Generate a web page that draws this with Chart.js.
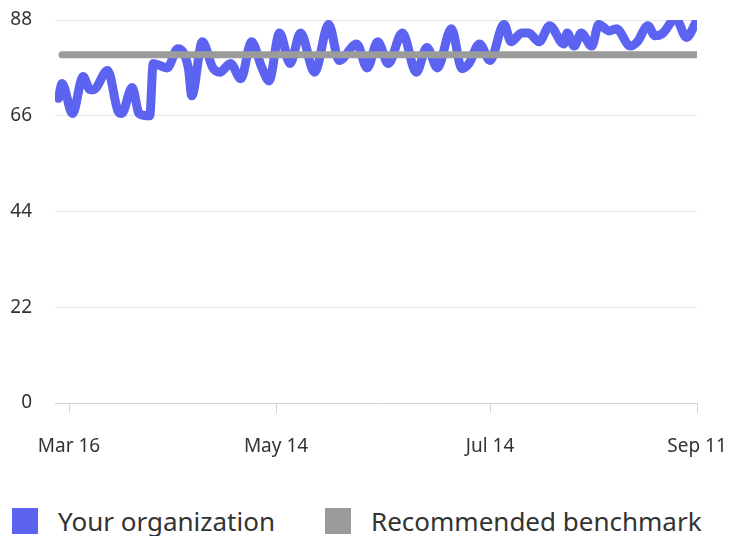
<!DOCTYPE html>
<html>
<head>
<meta charset="utf-8">
<script src="https://cdn.jsdelivr.net/npm/chart.js@4"></script>
<style>
  html, body { margin: 0; padding: 0; background: #fff; }
  body { width: 733px; height: 536px; position: relative; overflow: hidden; font-family: 'Noto Sans', sans-serif; }
  #wrap { position: absolute; left: 0; top: 0; width: 733px; height: 470px; }
  #legend { position: absolute; left: 12px; top: 503px; width: 721px; display: flex; align-items: center; font-size: 26px; color: #333; white-space: nowrap; }
  .item { display: flex; align-items: center; margin-right: 50px; flex-shrink: 0; }
  .box { width: 26px; height: 26px; margin-right: 20px; flex-shrink: 0; }
</style>
</head>
<body>
<div id="wrap"><canvas id="grafico"></canvas></div>
<div id="legend"></div>
<script>
// dias a partir de 16 de março
const diasOrg = [-3, -2, 1, 4, 6, 7, 11, 14, 15, 18, 20, 23, 24, 28, 31, 34, 35, 38, 41, 43,
  46, 49, 52, 55, 57, 60, 63, 66, 70, 74, 77, 82, 85, 88, 91, 95, 99, 102, 105, 109,
  112, 114, 117, 120, 124, 126, 129, 131, 134, 137, 141, 142, 144, 146, 149, 151, 154, 156, 160, 162,
  165, 167, 169, 173, 176, 179];
const valoresOrg = [70, 73.4, 66.5, 75, 72, 72, 76.4, 67, 66.5, 72.5, 66.5, 66, 78, 77, 81.4, 77, 70.6, 83, 77, 76,
  78, 74.5, 83, 77, 74, 85, 78, 85, 76, 87, 78.7, 82.5, 77, 83, 78, 85, 76, 81.7, 77, 86,
  76.8, 78, 82.5, 78.7, 87, 83, 85, 85, 83, 86.7, 82.5, 85, 82, 85, 82, 87, 85.5, 86, 82, 83,
  86.7, 84.4, 84.8, 88.3, 84, 88];

const diasBench = [-2, 179];
const valoresBench = [80, 80];

const tickDias = [0, 59, 120, 179];
const tickLabels = ['Mar 16', 'May 14', 'Jul 14', 'Sep 11'];

const yTicks = [0, 22, 44, 66, 88];

const series = [
  { label: 'Your organization', color: '#5b63f0', dias: diasOrg, valores: valoresOrg, width: 9, order: 1 },
  { label: 'Recommended benchmark', color: '#9b9b9b', dias: diasBench, valores: valoresBench, width: 7, order: 0 }
];

const fonte = { family: "'Noto Sans', sans-serif", size: 19 };

const data = {
  datasets: series.map(s => ({
    label: s.label,
    data: s.dias.map((d, i) => ({ x: d, y: s.valores[i] })),
    borderColor: s.color,
    backgroundColor: s.color,
    borderWidth: s.width,
    borderCapStyle: 'round',
    borderJoinStyle: 'round',
    cubicInterpolationMode: 'monotone',
    pointRadius: 0,
    order: s.order
  }))
};

const chart = new Chart(document.getElementById('grafico'), {
  type: 'line',
  data,
  options: {
    responsive: true,
    maintainAspectRatio: false,
    animation: false,
    layout: { padding: { top: 20, right: 36, left: 0, bottom: 0 } },
    plugins: { legend: { display: false }, tooltip: { enabled: false } },
    scales: {
      x: {
        type: 'linear',
        min: -4,
        max: 179,
        afterBuildTicks: axis => { axis.ticks = tickDias.map(v => ({ value: v })); },
        afterFit: axis => {
          axis.height = 67;
          axis.paddingLeft = 0;
          axis.paddingRight = 0;
        },
        ticks: {
          autoSkip: false,
          maxRotation: 0,
          padding: 22,
          color: '#333',
          font: fonte,
          callback: v => tickLabels[tickDias.indexOf(v)]
        },
        grid: { drawOnChartArea: false, drawTicks: true, tickLength: 10, color: '#d4d4d4' },
        border: { display: true, color: '#d4d4d4' }
      },
      y: {
        min: 0,
        max: 88,
        afterBuildTicks: axis => { axis.ticks = yTicks.map(v => ({ value: v })); },
        afterFit: axis => {
          axis.width = 55;
          axis.paddingTop = 0;
          axis.paddingBottom = 0;
        },
        ticks: { padding: 23, color: '#333', font: fonte },
        grid: { drawTicks: false, color: '#e3e3e3' },
        border: { display: false }
      }
    }
  }
});

const legenda = document.getElementById('legend');
series.forEach(s => {
  const item = document.createElement('div');
  item.className = 'item';
  item.innerHTML = `<span class="box" style="background:${s.color}"></span><span>${s.label}</span>`;
  legenda.appendChild(item);
});
</script>
</body>
</html>
